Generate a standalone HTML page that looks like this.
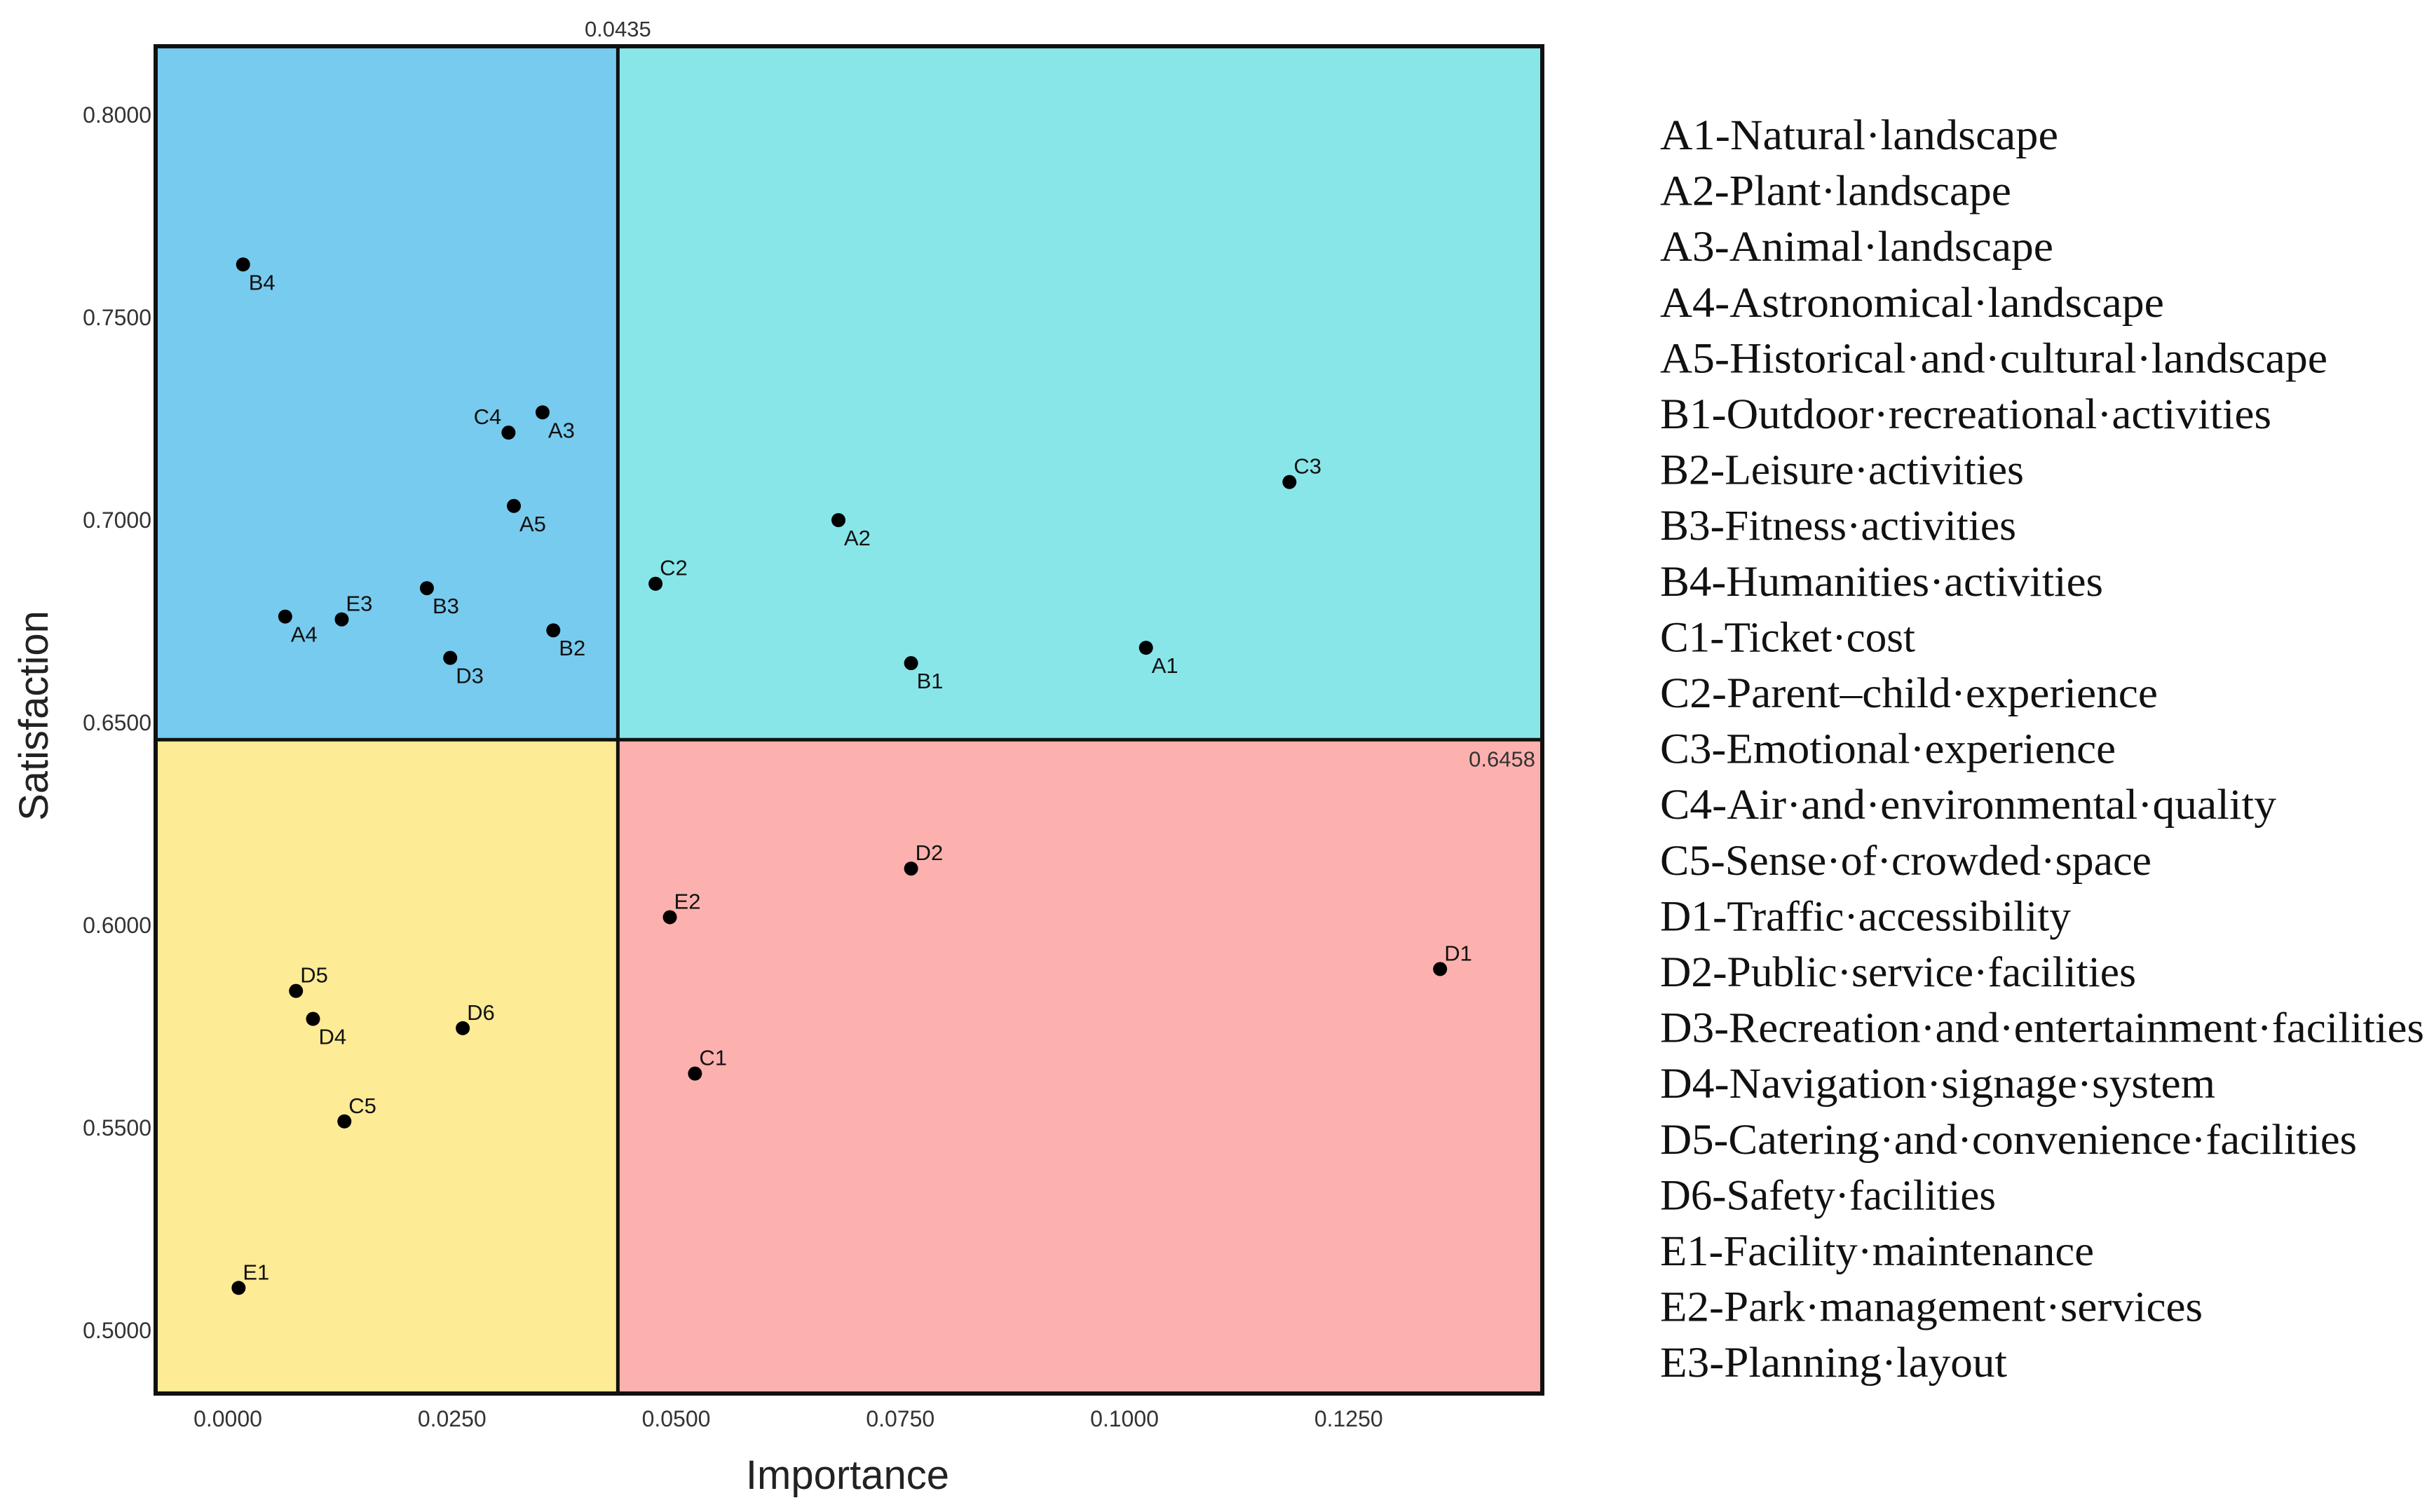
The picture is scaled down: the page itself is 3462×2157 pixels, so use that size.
<!DOCTYPE html>
<html><head><meta charset="utf-8"><style>
html,body{margin:0;padding:0;background:#fff;}
svg{display:block;}
</style></head><body>
<svg id="chart" width="3462" height="2157" viewBox="0 0 3462 2157" xmlns="http://www.w3.org/2000/svg">
<g id="quads"></g>
<g id="axes"></g>
<g id="pts"></g>
<g id="legend"></g>
</svg>
<script>
const labels=["A1","A2","A3","A4","A5","B1","B2","B3","B4","C1","C2","C3","C4","C5","D1","D2","D3","D4","D5","D6","E1","E2","E3"];
const importance=[0.1024,0.0681,0.0351,0.0064,0.0319,0.0762,0.0363,0.0222,0.0017,0.0521,0.0477,0.1184,0.0313,0.0130,0.1352,0.0762,0.0248,0.0095,0.0076,0.0262,0.0012,0.0493,0.0127];
const satisfaction=[0.6685,0.7000,0.7266,0.6762,0.7035,0.6647,0.6728,0.6832,0.7631,0.5634,0.6843,0.7094,0.7216,0.5516,0.5892,0.6140,0.6660,0.5769,0.5838,0.5746,0.5105,0.6020,0.6755];
const labelPos=["br","br","br","br","br","br","br","br","br","ar","ar","ar","al","ar","ar","ar","br","br","ar","ar","ar","ar","ar"];
const xTicks=[0,0.025,0.05,0.075,0.1,0.125];
const yTicks=[0.5,0.55,0.6,0.65,0.7,0.75,0.8];
const xMean=0.0435, yMean=0.6458;
const legendItems=["A1-Natural·landscape","A2-Plant·landscape","A3-Animal·landscape","A4-Astronomical·landscape","A5-Historical·and·cultural·landscape","B1-Outdoor·recreational·activities","B2-Leisure·activities","B3-Fitness·activities","B4-Humanities·activities","C1-Ticket·cost","C2-Parent–child·experience","C3-Emotional·experience","C4-Air·and·environmental·quality","C5-Sense·of·crowded·space","D1-Traffic·accessibility","D2-Public·service·facilities","D3-Recreation·and·entertainment·facilities","D4-Navigation·signage·system","D5-Catering·and·convenience·facilities","D6-Safety·facilities","E1-Facility·maintenance","E2-Park·management·services","E3-Planning·layout"];
const legendEnds=[1324,1294,1321,1392,1497,1461,1302,1297,1353,1232,1388,1361,1464,1384,1332,1374,1559,1425,1516,1284,1347,1417,1291];

const NS="http://www.w3.org/2000/svg";
const L=222,R=2200,T=66,B=1988;
function X(v){return 325+v*12790;}
function Y(v){return 164+(0.8-v)*5780;}
function mk(tag,attrs,parent){const e=document.createElementNS(NS,tag);for(const k in attrs)e.setAttribute(k,attrs[k]);parent.appendChild(e);return e;}
const quads=document.getElementById('quads'),axes=document.getElementById('axes'),pts=document.getElementById('pts'),leg=document.getElementById('legend');
const mx=X(xMean),my=Y(yMean);
let q;
q=mk('rect',{x:L,y:T,width:mx-L,height:my-T,fill:'#77CBEE'},quads);


q=mk('rect',{x:mx,y:T,width:R-mx,height:my-T,fill:'#88E6E9'},quads);


q=mk('rect',{x:L,y:my,width:mx-L,height:B-my,fill:'#FDEB95'},quads);


q=mk('rect',{x:mx,y:my,width:R-mx,height:B-my,fill:'#FDB1AE'},quads);


let e;
e=mk('line',{x1:mx,y1:T,x2:mx,y2:B,stroke:'#111','stroke-width':5},axes);


e=mk('line',{x1:L,y1:my,x2:R,y2:my,stroke:'#111','stroke-width':5},axes);


e=mk('rect',{x:L,y:T,width:R-L,height:B-T,fill:'none',stroke:'#111','stroke-width':6},axes);


e=mk('text',{x:mx,y:52,'text-anchor':'middle','font-family':'Liberation Sans, sans-serif','font-size':31,fill:'#333'},axes);
e.textContent=xMean.toFixed(4);


e=mk('text',{x:R-10,y:my+38,'text-anchor':'end','font-family':'Liberation Sans, sans-serif','font-size':31,fill:'#333'},axes);
e.textContent=yMean.toFixed(4);


xTicks.forEach(v=>{const t=mk('text',{x:X(v),y:2035,'text-anchor':'middle','font-family':'Liberation Sans, sans-serif','font-size':32,fill:'#333'},axes);t.textContent=v.toFixed(4);

});
yTicks.forEach(v=>{const t=mk('text',{x:216,y:Y(v)+11,'text-anchor':'end','font-family':'Liberation Sans, sans-serif','font-size':32,fill:'#333'},axes);t.textContent=v.toFixed(4);

});
e=mk('text',{x:1209,y:2124,'text-anchor':'middle','font-family':'Liberation Sans, sans-serif','font-size':58,fill:'#222'},axes);
e.textContent='Importance';


e=mk('text',{x:0,y:0,'text-anchor':'middle','font-family':'Liberation Sans, sans-serif','font-size':58,fill:'#222',transform:'translate(68,1021) rotate(-90)'},axes);
e.textContent='Satisfaction';


labels.forEach((lb,i)=>{
  const cx=X(importance[i]),cy=Y(satisfaction[i]);
  const c=mk('circle',{cx:cx,cy:cy,r:10,fill:'#000'},pts);
  
  
  const p=labelPos[i];let tx,ty,anc='start';
  if(p==='br'){tx=cx+8;ty=cy+36;}else if(p==='ar'){tx=cx+6;ty=cy-12;}else{tx=cx-10;ty=cy-12;anc='end';}
  const t=mk('text',{x:tx,y:ty,'text-anchor':anc,'font-family':'Liberation Sans, sans-serif','font-size':31,fill:'#111'},pts);
  t.textContent=lb;
  
  
});
legendItems.forEach((s,i)=>{
  const t=mk('text',{x:2368,y:213+i*79.6,'font-family':'Liberation Serif, serif','font-size':61,fill:'#111',textLength:((legendEnds[i]-1068)*2.219).toFixed(0),lengthAdjust:'spacingAndGlyphs'},leg);
  t.textContent=s;
  
  
});
</script>
</body></html>
